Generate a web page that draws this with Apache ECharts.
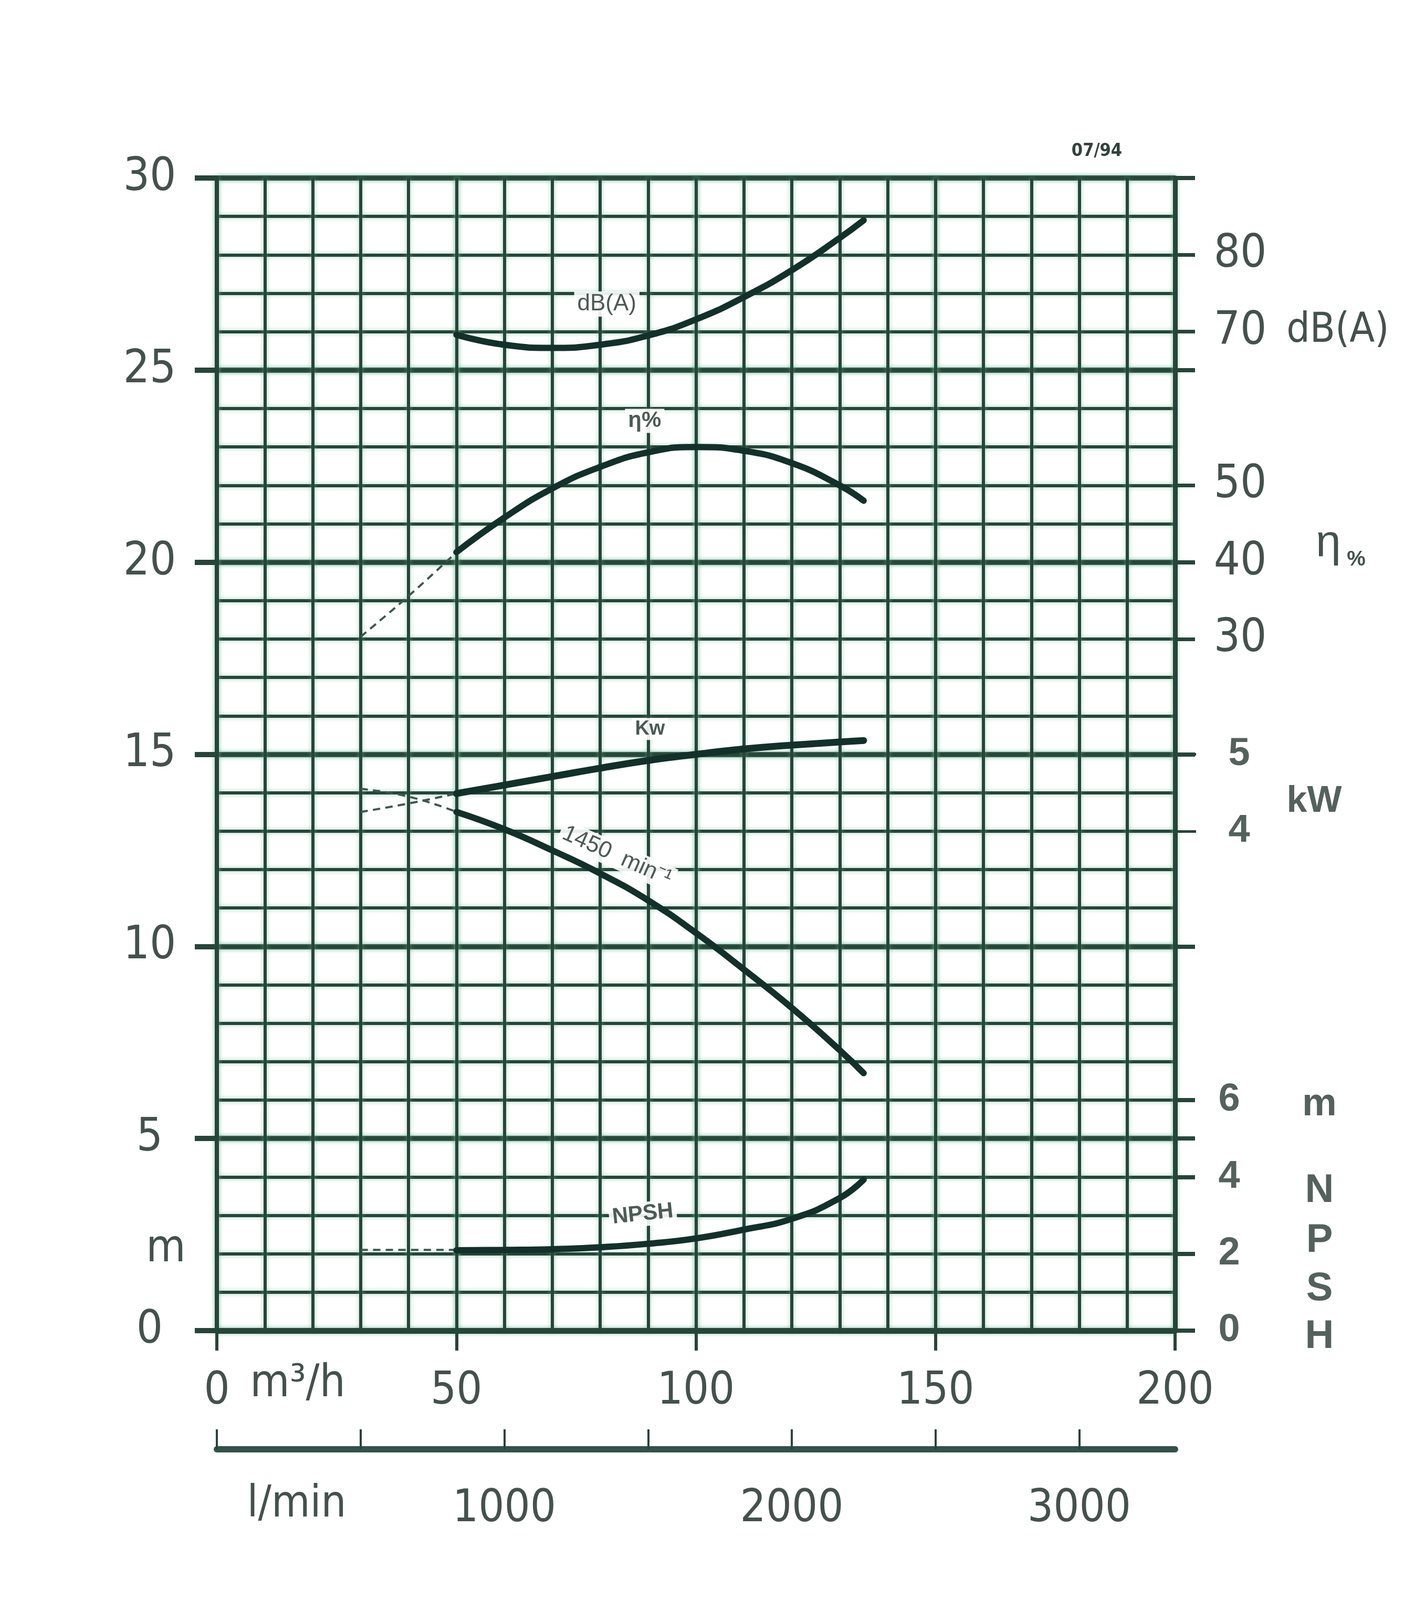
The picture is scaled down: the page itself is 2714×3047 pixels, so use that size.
<!DOCTYPE html>
<html><head><meta charset="utf-8">
<script src="https://cdn.jsdelivr.net/npm/echarts@6/dist/echarts.min.js"></script>
<style>html,body{margin:0;padding:0;background:#ffffff}#c{width:2714px;height:3047px}</style>
</head><body><div id="c"></div>
<script>
// ---- data (flow in m3/h) ----
const flow        = [50, 60, 70, 80, 90, 100, 110, 120, 130, 135];
const flowDash    = [30, 40, 50];
// head H (m), 1450 min-1
const head        = [13.5, 13.05, 12.5, 11.9, 11.2, 10.35, 9.4, 8.4, 7.3, 6.7];
const headDash    = [14.1, 13.9, 13.5];
// power (kW)
const powerKW     = [4.49, 4.60, 4.71, 4.82, 4.92, 5.00, 5.07, 5.12, 5.16, 5.18];
const powerDash   = [4.25, 4.36, 4.49];
// efficiency (%)
const eff         = [41.3, 45.8, 49.6, 52.4, 54.3, 55.0, 54.5, 52.9, 50.0, 48.0];
const effDash     = [30.3, 35.6, 41.3];
// noise dB(A)
const noise       = [69.6, 68.3, 67.9, 68.3, 69.5, 71.6, 74.5, 78.0, 82.2, 84.5];
// NPSH (m)
const npsh        = [2.09, 2.10, 2.12, 2.17, 2.26, 2.40, 2.63, 2.91, 3.45, 3.93];
const npshDash    = [2.1, 2.1, 2.1];
// tick values / labels
const lminTicks   = [0, 500, 1000, 1500, 2000, 2500, 3000];
const lminLabels  = [1000, 2000, 3000];
const dbEtaTicks  = [30, 40, 50, 70, 80];
const kwTicks     = [4, 5];
const npshTicks   = [0, 2, 4, 6];
const majorRight  = [5, 10, 15, 20, 25, 30];

const zip = (xs, ys) => xs.map((x, i) => [x, ys[i]]);

const INK = '#274539';
const CURVE = '#13302a';
const TXT = '#44514d';
const BOLDTXT = '#55615d';
const NARROW = "'Liberation Sans Narrow','DejaVu Sans Condensed','Liberation Sans',sans-serif";
const SANS = "'Liberation Sans',Arial,sans-serif";
const halo = {shadowColor: 'rgba(110,185,150,0.6)', shadowBlur: 8};
const plain = v => String(v);

const chart = echarts.init(document.getElementById('c'), null, {renderer: 'canvas'});

function curveLabel(coord, text, size, rotate, weight) {
  return {
    symbol: 'circle', symbolSize: 0,
    data: [{coord: coord, label: {show: true, position: 'inside', formatter: text,
      fontFamily: SANS, fontSize: size, fontWeight: weight || 'normal', color: '#4d5a55', rotate: rotate || 0,
      backgroundColor: 'rgba(255,255,255,0.9)', padding: [2, 6]}}]
  };
}

const solid = (w) => ({width: w, color: CURVE, cap: 'round'});
const dashed = {width: 4, color: '#3c5751', type: [14, 10]};

chart.setOption({
  backgroundColor: '#ffffff',
  animation: false,
  grid: {left: 413, right: 476, top: 339, bottom: 513},
  xAxis: [
    { type: 'value', position: 'bottom', min: 0, max: 200, interval: 50,
      axisLine: {show: true, onZero: false, lineStyle: {color: INK, width: 11}},
      axisTick: {show: true, inside: false, length: 38, lineStyle: {color: INK, width: 6}},
      axisLabel: {show: true, margin: 74, formatter: plain, fontFamily: NARROW, fontSize: 86, color: TXT, verticalAlign: 'top'},
      splitLine: {show: true, lineStyle: Object.assign({color: INK, width: 6}, halo)} },
    { type: 'value', position: 'bottom', min: 0, max: 200, interval: 10,
      axisLine: {show: false, onZero: false}, axisTick: {show: false}, axisLabel: {show: false},
      splitLine: {show: true, lineStyle: Object.assign({color: INK, width: 6}, halo)} },
    { type: 'value', position: 'bottom', offset: 226, min: 0, max: 10000 / 3,
      axisLine: {show: true, onZero: false, lineStyle: {color: '#33514a', width: 12}},
      axisTick: {show: true, inside: true, length: 38, customValues: lminTicks, lineStyle: {color: INK, width: 4}},
      axisLabel: {show: true, customValues: lminLabels, formatter: plain, margin: 72, fontFamily: NARROW, fontSize: 86, color: TXT, verticalAlign: 'top'},
      splitLine: {show: false} }
  ],
  yAxis: [
    { type: 'value', position: 'left', min: 0, max: 30, interval: 5,
      axisLine: {show: true, onZero: false, lineStyle: {color: INK, width: 8}},
      axisTick: {show: true, length: 42, lineStyle: {color: INK, width: 10}},
      axisLabel: {show: true, margin: 128, align: 'center', formatter: plain, fontFamily: NARROW, fontSize: 88, color: TXT},
      splitLine: {show: true, lineStyle: Object.assign({color: INK, width: 10}, halo)} },
    { type: 'value', position: 'left', min: 0, max: 30, interval: 1,
      axisLine: {show: false, onZero: false}, axisTick: {show: false}, axisLabel: {show: false},
      splitLine: {show: true, lineStyle: Object.assign({color: INK, width: 6}, halo)} },
    // dB(A) and efficiency share one scale
    { type: 'value', position: 'right', min: -60, max: 90,
      axisLine: {show: true, onZero: false, lineStyle: {color: INK, width: 9}},
      axisTick: {show: true, length: 38, customValues: dbEtaTicks, lineStyle: {color: INK, width: 7}},
      axisLabel: {show: true, customValues: dbEtaTicks, formatter: plain, margin: 124, align: 'center', fontFamily: NARROW, fontSize: 88, color: TXT},
      splitLine: {show: false} },
    // kW
    { type: 'value', position: 'right', min: -2.5, max: 12.5,
      axisLine: {show: false, onZero: false},
      axisTick: {show: true, length: 40, customValues: kwTicks, lineStyle: {color: INK, width: 5}},
      axisLabel: {show: true, customValues: kwTicks, formatter: plain, margin: 122, align: 'center', fontFamily: SANS, fontWeight: 'bold', fontSize: 74, color: BOLDTXT},
      splitLine: {show: false} },
    // NPSH (m) + major lines
    { type: 'value', position: 'right', min: 0, max: 30,
      axisLine: {show: false, onZero: false},
      axisTick: {show: true, length: 38, customValues: npshTicks.concat(majorRight), lineStyle: {color: INK, width: 8}},
      axisLabel: {show: true, customValues: npshTicks, formatter: plain, margin: 103, align: 'center', fontFamily: SANS, fontWeight: 'bold', fontSize: 74, color: BOLDTXT},
      splitLine: {show: false} }
  ],
  series: [
    { type: 'line', name: 'H dashed', xAxisIndex: 0, yAxisIndex: 0, data: zip(flowDash, headDash), smooth: true, symbol: 'none', lineStyle: dashed, z: 5 },
    { type: 'line', name: 'H', xAxisIndex: 0, yAxisIndex: 0, data: zip(flow, head), smooth: true, symbol: 'none', lineStyle: solid(12), z: 6,
      markPoint: curveLabel([83.5, 12.35], '1450  min⁻¹', 44, -24) },
    { type: 'line', name: 'P dashed', xAxisIndex: 0, yAxisIndex: 3, data: zip(flowDash, powerDash), smooth: true, symbol: 'none', lineStyle: dashed, z: 5 },
    { type: 'line', name: 'P', xAxisIndex: 0, yAxisIndex: 3, data: zip(flow, powerKW), smooth: true, symbol: 'none', lineStyle: solid(13), z: 6,
      markPoint: curveLabel([90.4, 5.33], 'Kw', 38, 0, 'bold') },
    { type: 'line', name: 'eta dashed', xAxisIndex: 0, yAxisIndex: 2, data: zip(flowDash, effDash), smooth: true, symbol: 'none', lineStyle: dashed, z: 5 },
    { type: 'line', name: 'eta', xAxisIndex: 0, yAxisIndex: 2, data: zip(flow, eff), smooth: true, symbol: 'none', lineStyle: solid(12), z: 6,
      markPoint: curveLabel([89.3, 58.4], 'η%', 42, 0, 'bold') },
    { type: 'line', name: 'dB', xAxisIndex: 0, yAxisIndex: 2, data: zip(flow, noise), smooth: true, symbol: 'none', lineStyle: solid(12), z: 6,
      markPoint: curveLabel([81.4, 73.6], 'dB(A)', 44, 0) },
    { type: 'line', name: 'NPSH dashed', xAxisIndex: 0, yAxisIndex: 0, data: zip(flowDash, npshDash), smooth: true, symbol: 'none', lineStyle: dashed, z: 5 },
    { type: 'line', name: 'NPSH', xAxisIndex: 0, yAxisIndex: 0, data: zip(flow, npsh), smooth: true, symbol: 'none', lineStyle: solid(12), z: 6,
      markPoint: curveLabel([88.9, 3.03], 'NPSH', 42, 6, 'bold') }
  ],
  graphic: [
    {type: 'text', x: 2089, y: 288, style: {text: '07/94', font: "bold 34px " + NARROW, fill: '#33413d', textAlign: 'center', textVerticalAlign: 'middle'}},
    {type: 'text', x: 316, y: 2380, style: {text: 'm', font: "86px " + NARROW, fill: TXT, textAlign: 'center', textVerticalAlign: 'middle'}},
    {type: 'text', x: 567, y: 2637, style: {text: 'm³/h', font: "86px " + NARROW, fill: TXT, textAlign: 'center', textVerticalAlign: 'middle'}},
    {type: 'text', x: 565, y: 2866, style: {text: 'l/min', font: "84px " + NARROW, fill: TXT, textAlign: 'center', textVerticalAlign: 'middle'}},
    {type: 'text', x: 2548, y: 631, style: {text: 'dB(A)', font: "78px " + NARROW, fill: TXT, textAlign: 'center', textVerticalAlign: 'middle'}},
    {type: 'text', x: 2530, y: 1035, style: {text: 'η', font: "86px " + SANS, fill: TXT, textAlign: 'center', textVerticalAlign: 'middle'}},
    {type: 'text', x: 2583, y: 1066, style: {text: '%', font: "bold 40px " + SANS, fill: TXT, textAlign: 'center', textVerticalAlign: 'middle'}},
    {type: 'text', x: 2503, y: 1527, style: {text: 'kW', font: "bold 70px " + SANS, fill: BOLDTXT, textAlign: 'center', textVerticalAlign: 'middle'}},
    {type: 'text', x: 2513, y: 2104, style: {text: 'm', font: "bold 74px " + SANS, fill: BOLDTXT, textAlign: 'center', textVerticalAlign: 'middle'}},
    {type: 'text', x: 2513, y: 2268, style: {text: 'N', font: "bold 76px " + SANS, fill: BOLDTXT, textAlign: 'center', textVerticalAlign: 'middle'}},
    {type: 'text', x: 2513, y: 2363, style: {text: 'P', font: "bold 76px " + SANS, fill: BOLDTXT, textAlign: 'center', textVerticalAlign: 'middle'}},
    {type: 'text', x: 2513, y: 2455, style: {text: 'S', font: "bold 76px " + SANS, fill: BOLDTXT, textAlign: 'center', textVerticalAlign: 'middle'}},
    {type: 'text', x: 2513, y: 2546, style: {text: 'H', font: "bold 76px " + SANS, fill: BOLDTXT, textAlign: 'center', textVerticalAlign: 'middle'}}
  ]
});
</script>
</body></html>
